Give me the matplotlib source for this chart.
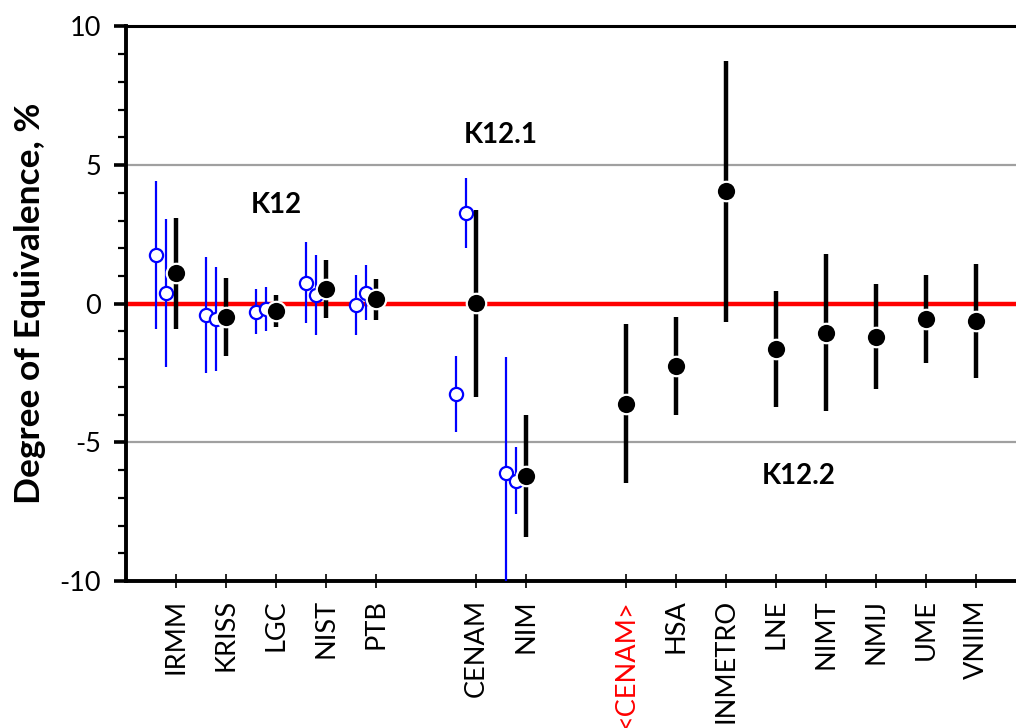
import numpy as np
import matplotlib.pyplot as plt
from matplotlib.ticker import MultipleLocator

plt.rcParams['font.family'] = ['Lato', 'DejaVu Sans']
plt.rcParams['axes.unicode_minus'] = False

# groups of labs: K12, K12.1, K12.2
grupo_k12 = ['IRMM', 'KRISS', 'LGC', 'NIST', 'PTB']
grupo_k121 = ['CENAM', 'NIM']
grupo_k122 = ['<CENAM>', 'HSA', 'INMETRO', 'LNE', 'NIMT', 'NMIJ', 'UME', 'VNIIM']

# degree of equivalence and expanded uncertainty, %
doe = [1.10, -0.47, -0.26, 0.53, 0.17,
       0.02, -6.21,
       -3.60, -2.25, 4.06, -1.63, -1.04, -1.19, -0.55, -0.62]
unc = [2.00, 1.40, 0.57, 1.04, 0.74,
       3.37, 2.19,
       2.86, 1.77, 4.70, 2.09, 2.84, 1.90, 1.58, 2.07]

# individual results for the K12 / K12.1 labs (open blue points)
doe_a = [1.76, -0.41, -0.28, 0.76, -0.05, -3.27, -6.09]
unc_a = [2.68, 2.10, 0.82, 1.47, 1.08, 1.37, 4.18]
doe_b = [0.38, -0.55, -0.20, 0.32, 0.40, 3.28, -6.38]
unc_b = [2.66, 1.87, 0.79, 1.45, 1.00, 1.26, 1.21]

# x positions: one slot per lab, one empty slot between groups
labs = []
xs = []
pos = 1
for grupo in [grupo_k12, grupo_k121, grupo_k122]:
    for lab in grupo:
        labs.append(lab)
        xs.append(pos)
        pos += 1
    pos += 1
xs = np.array(xs, dtype=float)
n_ind = len(doe_a)

fig = plt.figure(figsize=(10.16, 7.28), dpi=100)
ax = fig.add_axes([0.124, 0.2019, 0.876, 0.7617])

ax.axhline(5, color='#a0a0a0', lw=1.6, zorder=1)
ax.axhline(-5, color='#a0a0a0', lw=1.6, zorder=1)
ax.axhline(0, color='#ff0000', lw=3.2, zorder=2)

ax.errorbar(xs[:n_ind] - 0.4, doe_a, yerr=unc_a, fmt='o', color='#0000ff',
            ms=9.5, mfc='white', mec='#0000ff', mew=1.6, elinewidth=1.6,
            capsize=0, zorder=3)
ax.errorbar(xs[:n_ind] - 0.2, doe_b, yerr=unc_b, fmt='o', color='#0000ff',
            ms=9.5, mfc='white', mec='#0000ff', mew=1.6, elinewidth=1.6,
            capsize=0, zorder=4)
ax.errorbar(xs, doe, yerr=unc, fmt='o', color='black', ms=14,
            mfc='black', mec='white', mew=1.6, elinewidth=3.2,
            capsize=0, zorder=5)

ax.text(3, 3.55, 'K12', fontsize=20, fontweight='bold', ha='center', va='center')
ax.text(7.5, 6.1, 'K12.1', fontsize=20, fontweight='bold', ha='center', va='center')
ax.text(13.45, -6.2, 'K12.2', fontsize=20, fontweight='bold', ha='center', va='center')

ax.set_xlim(0, 17.8)
ax.set_ylim(-10, 10)
ax.set_xticks(xs)
ax.set_xticklabels(labs, rotation=90, fontsize=19.5)
for t in ax.get_xticklabels():
    if t.get_text() == '<CENAM>':
        t.set_color('#ff0000')
ax.yaxis.set_major_locator(MultipleLocator(5))
ax.yaxis.set_minor_locator(MultipleLocator(1))
ax.tick_params(axis='y', which='major', direction='out', length=9, width=2.6,
               labelsize=19.5, pad=9)
ax.tick_params(axis='y', which='minor', direction='out', length=6, width=1.6)
ax.tick_params(axis='x', direction='inout', length=10, width=1.2, pad=8)

ax.spines['right'].set_visible(False)
for s in ['left', 'bottom']:
    ax.spines[s].set_linewidth(2.8)
ax.spines['top'].set_linewidth(2.2)

ax.set_ylabel('Degree of Equivalence, %', fontsize=25.5, fontweight='bold', labelpad=10)

fig.savefig('out.png', dpi=100)
